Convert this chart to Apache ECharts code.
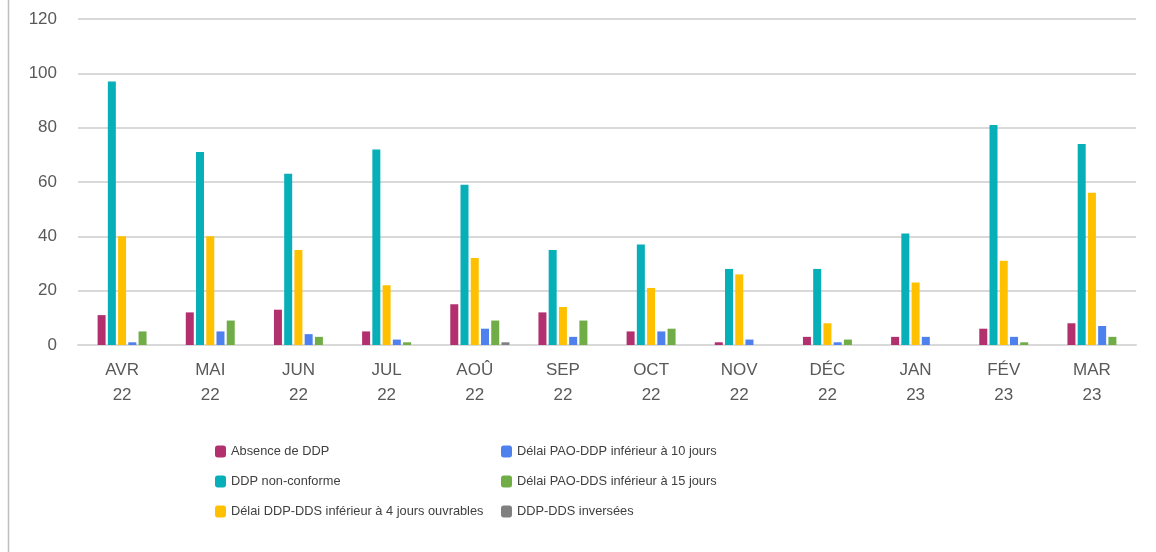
<!DOCTYPE html>
<html><head><meta charset="utf-8">
<script src="https://cdn.jsdelivr.net/npm/echarts@6/dist/echarts.min.js"></script>
<style>html,body{margin:0;padding:0;background:#fff}#c{width:1156px;height:552px}</style>
</head><body><div id="c"></div>
<script>
const categories = ['AVR\n22','MAI\n22','JUN\n22','JUL\n22','AOÛ\n22','SEP\n22','OCT\n22','NOV\n22','DÉC\n22','JAN\n23','FÉV\n23','MAR\n23'];
const absenceDDP = [11,12,13,5,15,12,5,1,3,3,6,8];
const ddpNonConforme = [97,71,63,72,59,35,37,28,28,41,81,74];
const delaiDDPDDS4 = [40,40,35,22,32,14,21,26,8,23,31,56];
const delaiPAODDP10 = [1,5,4,2,6,3,5,2,1,3,3,7];
const delaiPAODDS15 = [5,9,3,1,9,9,6,0,2,0,1,3];
const ddpDdsInversees = [0,0,0,0,1,0,0,0,0,0,0,0];
const yTicks = [0,20,40,60,80,100,120];

const FONT = '"Liberation Sans", Arial, sans-serif';
const chart = echarts.init(document.getElementById('c'));
const names = ['Absence de DDP','DDP non-conforme','Délai DDP-DDS inférieur à 4 jours ouvrables','Délai PAO-DDP inférieur à 10 jours','Délai PAO-DDS inférieur à 15 jours','DDP-DDS inversées'];
const colors = ['#B3306E','#07B0B8','#FFC000','#4F81EE','#70AD47','#808080'];
const datas = [absenceDDP, ddpNonConforme, delaiDDPDDS4, delaiPAODDP10, delaiPAODDS15, ddpDdsInversees];
const series = [{name:'_spacer', type:'bar', data:[], barWidth:8, barGap:'28%'}];
names.forEach((n,i)=>series.push({name:n,type:'bar',data:datas[i],barWidth:8,barGap:'28%',itemStyle:{color:colors[i]},silent:true}));
const legendText = {fontFamily:FONT,fontSize:12.8,color:'#404040'};
chart.setOption({
  animation:false,
  textStyle:{fontFamily:FONT},
  grid:{left:78,right:20,top:19,bottom:207},
  graphic:[{type:'line',shape:{x1:8.5,y1:0,x2:8.5,y2:552},style:{stroke:'#BFBFBF',lineWidth:1.5}}],
  legend:[
    {orient:'vertical',left:215,top:445,padding:0,itemWidth:11,itemHeight:12,itemGap:17,icon:'roundRect',textStyle:legendText,data:names.slice(0,3)},
    {orient:'vertical',left:501,top:445,padding:0,itemWidth:11,itemHeight:12,itemGap:17,icon:'roundRect',textStyle:legendText,data:names.slice(3)}
  ],
  xAxis:{type:'category',data:categories,axisTick:{show:false},
    axisLine:{lineStyle:{color:'#D9D9D9',width:2}},
    axisLabel:{color:'#595959',fontSize:17,lineHeight:25,margin:13,fontFamily:FONT}},
  yAxis:{type:'value',min:yTicks[0],max:yTicks[yTicks.length-1],interval:20,
    axisLine:{show:false},axisTick:{show:false},
    splitLine:{lineStyle:{color:'#D9D9D9',width:2}},
    axisLabel:{color:'#595959',fontSize:17,margin:21,fontFamily:FONT}},
  series:series
});
</script></body></html>
